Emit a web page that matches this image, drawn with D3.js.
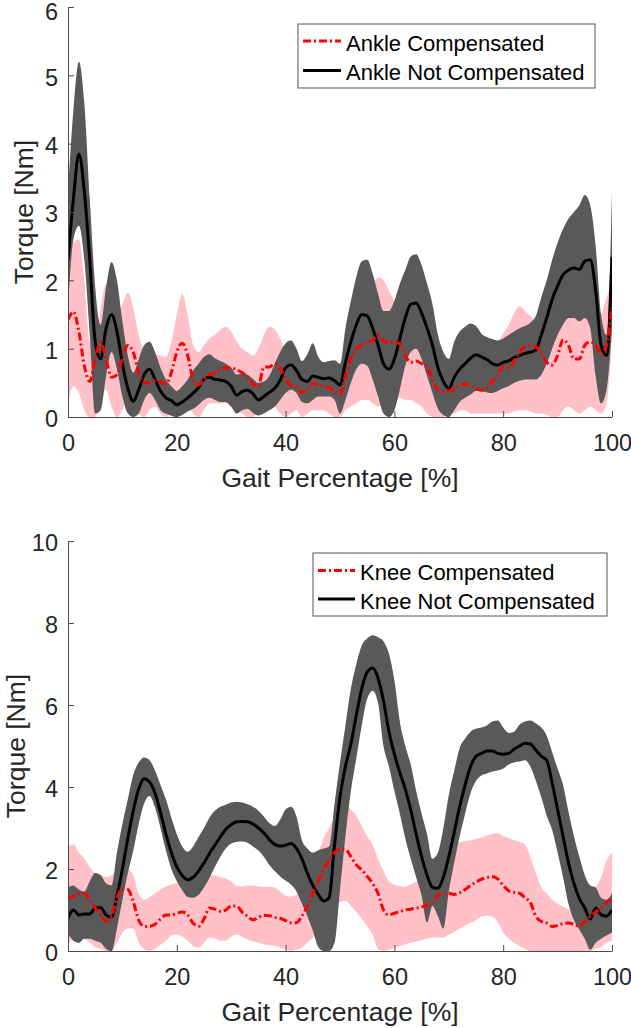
<!DOCTYPE html>
<html><head><meta charset="utf-8">
<script src="https://cdn.jsdelivr.net/npm/d3@7"></script>
<style>
body{margin:0;background:#fff;}
svg{display:block;font-family:"Liberation Sans",Arial,Helvetica,sans-serif;}
</style>
</head><body>
<svg id="chart" width="631" height="1028"></svg>
<script>
// ---------------- DATA ----------------
const gaitPct = d3.range(0, 101, 1);
const xTicks = [0, 20, 40, 60, 80, 100];
const ankleYTicks = [0, 1, 2, 3, 4, 5, 6];
const kneeYTicks = [0, 2, 4, 6, 8, 10];
const ankleLegend = ["Ankle Compensated", "Ankle Not Compensated"];
const kneeLegend = ["Knee Compensated", "Knee Not Compensated"];
const xLabel = "Gait Percentage [%]";
const yLabel = "Torque [Nm]";

const ankleNCMean = [2.30,3.20,3.85,3.30,2.30,1.10,0.85,1.30,1.50,1.25,
0.78,0.42,0.23,0.40,0.62,0.70,0.55,0.38,0.28,0.24,
0.18,0.22,0.28,0.35,0.43,0.55,0.58,0.55,0.54,0.52,
0.45,0.32,0.37,0.39,0.34,0.25,0.30,0.36,0.42,0.54,
0.72,0.76,0.68,0.55,0.52,0.60,0.58,0.56,0.57,0.53,
0.47,0.80,1.10,1.35,1.50,1.48,1.30,1.05,0.78,0.70,
0.85,1.15,1.45,1.65,1.67,1.52,1.30,1.05,0.72,0.52,
0.42,0.58,0.70,0.78,0.86,0.91,0.88,0.84,0.78,0.76,
0.80,0.82,0.87,0.90,0.93,0.95,0.98,1.20,1.45,1.72,
1.92,2.08,2.15,2.18,2.16,2.28,2.30,1.85,1.05,0.90,
2.34];
const ankleNCUpper = [3.30,4.50,5.20,4.60,3.20,1.90,1.35,1.90,2.27,2.00,
1.40,0.90,0.65,0.85,1.05,1.10,0.95,0.72,0.55,0.45,
0.38,0.45,0.55,0.68,0.78,0.88,0.92,0.86,0.82,0.78,
0.72,0.62,0.64,0.62,0.56,0.50,0.52,0.60,0.78,0.95,
1.08,1.12,1.00,0.82,0.92,1.08,0.88,0.80,0.82,0.83,
0.78,1.30,1.70,2.05,2.28,2.30,2.10,1.80,1.55,1.55,
1.70,1.95,2.15,2.35,2.38,2.22,1.95,1.65,1.20,0.95,
0.85,1.10,1.25,1.32,1.37,1.33,1.22,1.17,1.14,1.12,
1.15,1.20,1.25,1.30,1.33,1.38,1.48,1.75,2.00,2.30,
2.55,2.75,2.90,3.00,3.10,3.25,3.10,2.50,1.50,1.20,
3.30];
const ankleNCLower = [1.60,2.60,2.80,2.30,1.20,0.05,0.10,0.60,0.95,0.70,
0.30,0.05,0.00,0.05,0.25,0.35,0.25,0.10,0.05,0.02,
0.00,0.03,0.08,0.12,0.18,0.25,0.28,0.25,0.22,0.22,
0.15,0.05,0.10,0.12,0.06,0.02,0.05,0.10,0.15,0.25,
0.35,0.40,0.35,0.22,0.20,0.25,0.30,0.30,0.30,0.25,
0.05,0.25,0.50,0.70,0.78,0.75,0.55,0.30,0.05,0.00,
0.10,0.40,0.75,0.95,1.00,0.85,0.60,0.35,0.12,0.03,
0.00,0.10,0.22,0.28,0.33,0.38,0.38,0.36,0.35,0.38,
0.42,0.45,0.50,0.53,0.55,0.55,0.55,0.62,0.78,1.00,
1.20,1.35,1.45,1.45,1.40,1.45,1.30,0.60,0.20,0.40,
1.30];

const ankleCMean = [1.42,1.54,1.25,0.75,0.52,0.85,1.10,0.85,0.58,0.62,
0.85,1.05,0.95,0.65,0.50,0.50,0.53,0.51,0.49,0.65,
0.95,1.08,0.90,0.55,0.47,0.55,0.62,0.65,0.69,0.72,
0.72,0.69,0.65,0.58,0.48,0.45,0.73,0.73,0.78,0.72,
0.55,0.46,0.44,0.36,0.40,0.49,0.47,0.45,0.43,0.38,
0.33,0.60,0.85,1.00,1.05,1.08,1.12,1.20,1.12,1.08,
1.10,1.07,0.90,0.80,0.82,0.78,0.74,0.55,0.40,0.37,
0.38,0.40,0.47,0.48,0.45,0.42,0.39,0.43,0.52,0.60,
0.74,0.72,0.82,0.95,1.02,1.05,1.03,0.92,0.80,0.76,
0.90,1.13,1.05,0.85,0.85,1.05,1.10,1.05,0.92,1.05,
1.60];
const ankleCUpper = [2.00,2.55,2.60,2.00,1.10,1.00,1.60,1.95,1.75,1.50,
1.65,1.82,1.60,1.20,0.95,0.85,0.92,0.90,0.88,1.10,
1.50,1.80,1.50,1.05,0.95,1.05,1.15,1.20,1.28,1.32,
1.25,1.10,1.00,0.95,0.90,1.00,1.20,1.32,1.28,1.15,
0.95,0.85,0.85,0.75,0.80,0.85,0.82,0.80,0.78,0.72,
0.70,0.95,1.20,1.35,1.45,1.60,1.90,2.05,2.00,1.85,
1.70,1.60,1.45,1.35,1.35,1.30,1.25,1.05,0.80,0.70,
0.68,0.72,0.78,0.82,0.85,0.85,0.88,0.92,1.00,1.10,
1.22,1.35,1.52,1.62,1.55,1.48,1.38,1.25,1.30,1.45,
1.55,1.62,1.60,1.52,1.55,1.55,1.50,1.45,1.50,1.75,
1.95];
const ankleCLower = [0.20,0.45,0.35,0.10,0.00,0.00,0.30,0.40,0.15,0.00,
0.10,0.30,0.25,0.05,0.00,0.10,0.15,0.05,0.00,0.10,
0.30,0.35,0.25,0.05,0.00,0.10,0.20,0.20,0.20,0.20,
0.15,0.10,0.05,0.00,0.00,0.15,0.20,0.20,0.15,0.05,
0.00,0.05,0.10,0.00,0.05,0.10,0.10,0.10,0.05,0.00,
0.00,0.10,0.15,0.20,0.25,0.25,0.20,0.15,0.20,0.30,
0.30,0.28,0.25,0.25,0.20,0.15,0.05,0.00,0.00,0.00,
0.05,0.05,0.10,0.10,0.05,0.05,0.05,0.05,0.05,0.05,
0.05,0.05,0.08,0.10,0.10,0.08,0.05,0.05,0.03,0.00,
0.00,0.10,0.15,0.10,0.05,0.10,0.15,0.10,0.05,0.20,
1.20];

const kneeNCMean = [0.80,1.00,0.88,0.90,0.90,1.05,1.06,0.88,0.82,1.35,
2.00,2.75,3.42,3.95,4.20,4.12,3.85,3.38,2.85,2.40,
2.05,1.84,1.74,1.80,1.95,2.15,2.38,2.58,2.78,2.97,
3.08,3.15,3.16,3.15,3.10,3.00,2.88,2.72,2.60,2.56,
2.58,2.62,2.50,2.25,1.90,1.60,1.38,1.22,1.30,2.60,
3.75,4.50,5.05,5.75,6.40,6.80,6.90,6.65,6.10,5.35,
4.80,4.35,3.95,3.45,2.85,2.30,1.85,1.55,1.53,1.80,
2.30,2.90,3.52,4.05,4.50,4.75,4.82,4.88,4.88,4.82,
4.80,4.82,4.92,5.00,5.07,5.05,4.90,4.75,4.65,4.10,
3.45,2.80,2.15,1.65,1.28,1.05,0.78,1.05,0.88,0.85,
1.00];
const kneeNCUpper = [1.55,1.60,1.50,1.45,1.70,1.90,1.85,1.65,1.60,2.40,
3.10,3.70,4.30,4.60,4.72,4.65,4.40,4.05,3.70,3.25,
2.85,2.55,2.42,2.55,2.78,3.00,3.25,3.42,3.52,3.57,
3.62,3.64,3.62,3.58,3.52,3.42,3.28,3.12,3.05,3.20,
3.45,3.52,3.28,2.70,2.50,2.40,2.46,2.50,2.55,3.60,
4.60,5.50,6.40,7.00,7.45,7.62,7.70,7.65,7.55,7.25,
6.60,5.60,5.00,4.55,3.90,3.35,2.85,2.25,2.40,3.00,
3.80,4.40,4.95,5.18,5.35,5.42,5.45,5.50,5.60,5.62,
5.45,5.32,5.35,5.52,5.60,5.62,5.55,5.45,5.25,4.85,
4.45,4.05,3.40,2.80,2.30,1.85,1.60,1.55,1.30,1.25,
1.40];
const kneeNCLower = [0.42,0.25,0.20,0.30,0.30,0.25,0.20,0.05,0.00,0.55,
1.25,1.90,2.45,3.10,3.60,3.78,3.50,3.00,2.45,2.00,
1.70,1.48,1.32,1.30,1.37,1.55,1.78,2.05,2.30,2.50,
2.62,2.66,2.67,2.64,2.55,2.45,2.30,2.10,1.95,1.82,
1.72,1.62,1.45,1.15,0.85,0.50,0.10,0.00,0.00,0.20,
1.50,2.80,3.90,4.70,5.50,6.15,6.35,6.05,5.00,4.50,
3.90,3.35,2.75,2.25,1.80,1.35,0.70,1.10,0.85,0.55,
1.45,2.15,2.80,3.35,3.85,4.15,4.28,4.33,4.38,4.40,
4.45,4.55,4.60,4.62,4.65,4.50,4.15,3.75,3.30,2.95,
2.40,1.80,1.15,0.75,0.52,0.30,0.03,0.20,0.30,0.38,
0.45];

const kneeCMean = [1.28,1.33,1.40,1.40,1.25,1.05,0.88,0.72,0.84,1.30,
1.52,1.50,1.20,0.75,0.60,0.60,0.65,0.78,0.88,0.88,
0.92,0.95,0.88,0.68,0.60,0.78,1.05,1.02,0.97,1.00,
1.10,1.10,0.95,0.85,0.76,0.82,0.87,0.86,0.82,0.80,
0.74,0.69,0.69,0.85,1.10,1.40,1.70,1.98,2.22,2.40,
2.48,2.48,2.30,2.10,1.98,1.82,1.65,1.40,1.00,0.88,
0.92,0.96,1.00,1.02,1.05,1.07,1.12,1.20,1.35,1.42,
1.41,1.38,1.42,1.50,1.60,1.68,1.75,1.79,1.81,1.76,
1.60,1.47,1.43,1.41,1.30,1.18,0.85,0.72,0.68,0.60,
0.62,0.67,0.68,0.65,0.60,0.72,0.85,0.95,1.05,1.18,
1.30];
const kneeCUpper = [2.55,2.60,2.40,2.25,2.05,1.90,1.85,1.80,1.85,1.95,
2.05,2.00,1.85,1.40,1.25,1.32,1.40,1.50,1.57,1.62,
1.65,1.62,1.55,1.55,1.60,1.72,1.85,1.85,1.80,1.77,
1.70,1.58,1.57,1.60,1.60,1.58,1.57,1.57,1.55,1.45,
1.35,1.33,1.38,1.45,1.60,2.05,2.40,2.75,3.00,3.25,
3.50,3.60,3.45,3.30,3.05,2.80,2.60,2.25,1.95,1.70,
1.62,1.58,1.57,1.62,1.70,1.80,1.92,2.02,2.15,2.28,
2.45,2.58,2.65,2.68,2.70,2.73,2.77,2.82,2.86,2.87,
2.80,2.76,2.70,2.66,2.60,2.30,1.90,1.55,1.40,1.25,
1.15,1.08,1.02,1.00,1.00,1.10,1.30,1.55,1.80,2.20,
2.40];
const kneeCLower = [0.12,0.35,0.40,0.30,0.20,0.10,0.05,0.00,0.00,0.20,
0.45,0.55,0.55,0.20,0.05,0.00,0.05,0.15,0.25,0.38,
0.40,0.35,0.25,0.12,0.08,0.20,0.33,0.30,0.25,0.25,
0.35,0.40,0.35,0.28,0.24,0.20,0.16,0.14,0.12,0.08,
0.03,0.00,0.03,0.08,0.20,0.33,0.45,0.65,0.85,1.05,
1.20,1.22,1.10,0.95,0.78,0.60,0.40,0.05,0.00,0.03,
0.08,0.12,0.16,0.20,0.23,0.26,0.30,0.33,0.33,0.33,
0.40,0.47,0.55,0.62,0.68,0.75,0.84,0.86,0.84,0.70,
0.45,0.30,0.20,0.12,0.05,0.00,0.00,0.00,0.00,0.00,
0.00,0.00,0.00,0.00,0.00,0.00,0.00,0.05,0.10,0.20,
0.25];

// ---------------- DRAW ----------------
const svg = d3.select("#chart");
const FONT = '"Liberation Sans", Arial, Helvetica, sans-serif';

function panel(o) {
  const x = d3.scaleLinear().domain([0, 100]).range([68, 612]);
  const y = d3.scaleLinear().domain([0, o.yMax]).range([o.bottom, o.top]);

  svg.append("clipPath").attr("id", o.id)
    .append("rect").attr("x", x(0)).attr("y", y(o.yMax))
    .attr("width", x(100) - x(0)).attr("height", y(0) - y(o.yMax));

  const plot = svg.append("g").attr("clip-path", `url(#${o.id})`);
  const area = (lo, hi) => d3.area()
    .x((d, i) => x(gaitPct[i])).y0((d, i) => y(lo[i])).y1((d, i) => y(hi[i]))
    .curve(d3.curveMonotoneX);
  const line = (m) => d3.line()
    .x((d, i) => x(gaitPct[i])).y((d, i) => y(m[i]))
    .curve(d3.curveMonotoneX);

  plot.append("path").datum(gaitPct).attr("d", area(o.cLo, o.cHi)).attr("fill", "#ffc0c8");
  plot.append("path").datum(gaitPct).attr("d", area(o.nLo, o.nHi)).attr("fill", "#595959");
  plot.append("path").datum(gaitPct).attr("d", line(o.nMean))
    .attr("fill", "none").attr("stroke", "#000").attr("stroke-width", 3).attr("stroke-linejoin", "round");
  plot.append("path").datum(gaitPct).attr("d", line(o.cMean))
    .attr("fill", "none").attr("stroke", "#ff0000").attr("stroke-width", 3)
    .attr("stroke-dasharray", "8,3,2,3");

  const xa = svg.append("g").attr("transform", `translate(0,${y(0)})`)
    .call(d3.axisBottom(x).tickValues(xTicks).tickFormat(d3.format("d"))
      .tickSizeInner(-6).tickSizeOuter(0).tickPadding(17));
  const ya = svg.append("g").attr("transform", `translate(${x(0)},0)`)
    .call(d3.axisLeft(y).tickValues(o.yTicks).tickFormat(d3.format("d"))
      .tickSizeInner(-6).tickSizeOuter(0).tickPadding(10));
  [xa, ya].forEach(a => {
    a.selectAll(".domain, .tick line").attr("stroke", "#4a4a4a").attr("stroke-width", 1);
    a.selectAll("text").attr("font-size", 23.5).attr("font-family", FONT).attr("fill", "#262626");
  });
  ya.selectAll("text").attr("dy", d => (y(d) < 20 ? "0.52em" : "0.42em"));

  svg.append("text").attr("x", (x(0) + x(100)) / 2).attr("y", y(0) + 70)
    .attr("text-anchor", "middle").attr("font-size", 26.5).attr("fill", "#262626").text(xLabel);
  svg.append("text").attr("transform", `translate(${o.ylx},${(y(0) + y(o.yMax)) / 2}) rotate(-90)`)
    .attr("text-anchor", "middle").attr("font-size", 26.5).attr("fill", "#262626").text(yLabel);

  // legend
  const L = o.legend;
  svg.append("rect").attr("x", L.x).attr("y", L.y).attr("width", L.w).attr("height", L.h)
    .attr("fill", "#fff").attr("stroke", "#555").attr("stroke-width", 1);
  o.names.forEach((name, i) => {
    const ly = L.y + L.row0 + i * L.dy;
    svg.append("line").attr("x1", L.x + 5).attr("x2", L.x + L.lineLen + 5)
      .attr("y1", ly).attr("y2", ly)
      .attr("stroke", i === 0 ? "#ff0000" : "#000").attr("stroke-width", 3)
      .attr("stroke-dasharray", i === 0 ? "8,3,2,3" : null);
    svg.append("text").attr("x", L.x + L.textDx).attr("y", ly + 9.5)
      .attr("font-size", 22).attr("fill", "#000").text(name);
  });
}

panel({
  id: "clipA", yMax: 6, top: 7, bottom: 417, yTicks: ankleYTicks, ylx: 33,
  cMean: ankleCMean, cHi: ankleCUpper, cLo: ankleCLower,
  nMean: ankleNCMean, nHi: ankleNCUpper, nLo: ankleNCLower,
  names: ankleLegend,
  legend: { x: 298, y: 24, w: 297, h: 64, row0: 17, dy: 29.5, lineLen: 38, textDx: 48 }
});
panel({
  id: "clipK", yMax: 10, top: 541, bottom: 951, yTicks: kneeYTicks, ylx: 25,
  cMean: kneeCMean, cHi: kneeCUpper, cLo: kneeCLower,
  nMean: kneeNCMean, nHi: kneeNCUpper, nLo: kneeNCLower,
  names: kneeLegend,
  legend: { x: 313, y: 553, w: 294, h: 63, row0: 17.5, dy: 28.5, lineLen: 37, textDx: 47 }
});
</script>
</body></html>
